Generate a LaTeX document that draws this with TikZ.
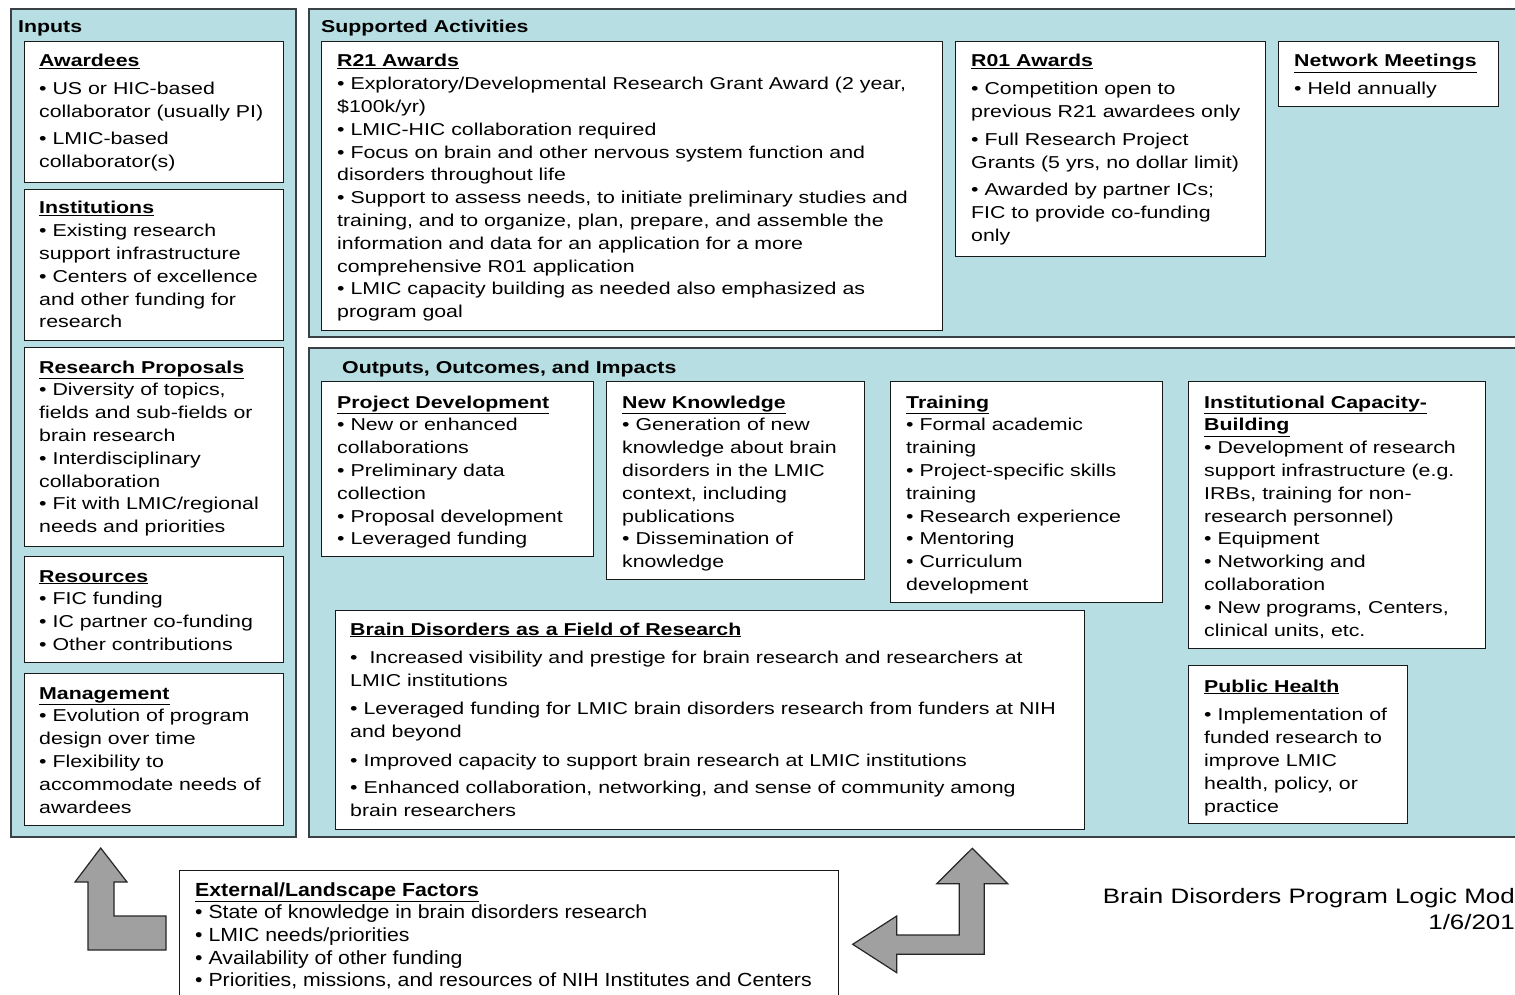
\documentclass[tikz,border=0pt]{standalone}
\usepackage{fontspec}
\setmainfont[FakeStretch=1.24]{Liberation Sans}
\newfontfamily\narrowfont[FakeStretch=1.12]{Liberation Sans}
\definecolor{panelfill}{RGB}{183,223,227}
\definecolor{panelline}{RGB}{58,64,68}
\definecolor{arrowfill}{RGB}{160,160,160}
\newcommand\bodyfont{\fontsize{17.2}{22.8}\selectfont}
\newcommand\hd[1]{\underline{\textbf{#1}}}
\newcommand\bx[1]{\parbox[t]{900pt}{\bodyfont\raggedright #1}}
\newcommand\nbx[1]{\parbox[t]{900pt}{\narrowfont\fontsize{19}{22.7}\selectfont\raggedright #1}}
\begin{document}
\begin{tikzpicture}[x=1pt,y=-1pt,
  panel/.style={draw=panelline, line width=1.8pt, fill=panelfill, anchor=north west, inner sep=0pt},
  box/.style={draw=black!90, line width=1.3pt, fill=white, anchor=north west, inner sep=0pt},
  txt/.style={anchor=base west, inner sep=0pt, yshift=-1pt},
  ptitle/.style={anchor=base west, inner sep=0pt, yshift=-1pt, font=\bodyfont\bfseries},
  blockarrow/.style={draw=black!85, line width=1.2pt, fill=arrowfill, line join=miter}]
\useasboundingbox (0,0) rectangle (1515,995);
\fill[white] (0,0) rectangle (1515,995);

% panels
\node[panel, minimum width=285pt, minimum height=828pt] (inputs) at (10,8) {};
\node[panel, minimum width=1230pt, minimum height=328pt] (supp) at (308,8) {};
\node[panel, minimum width=1230pt, minimum height=489pt] (outp) at (308,347) {};
\node[ptitle] (inputs-t) at (18,32) {Inputs};
\node[ptitle] (supp-t) at (321,32) {Supported Activities};
\node[ptitle] (outp-t) at (342,372) {Outputs, Outcomes, and Impacts};

% inputs boxes
\node[box, minimum width=259pt, minimum height=141pt] (awd) at (24,41) {};
\node[txt] (awd-t) at (39,66) {\bx{\hd{Awardees}\\[5pt]
• US or HIC-based\\
collaborator (usually PI)\\[4pt]
• LMIC-based\\
collaborator(s)}};

\node[box, minimum width=259pt, minimum height=151pt] (inst) at (24,189) {};
\node[txt] (inst-t) at (39,213) {\bx{\hd{Institutions}\\
• Existing research\\
support infrastructure\\
• Centers of excellence\\
and other funding for\\
research}};

\node[box, minimum width=259pt, minimum height=199pt] (prop) at (24,347) {};
\node[txt] (prop-t) at (39,372) {\bx{\hd{Research Proposals}\\
• Diversity of topics,\\
fields and sub-fields or\\
brain research\\
• Interdisciplinary\\
collaboration\\
• Fit with LMIC/regional\\
needs and priorities}};

\node[box, minimum width=259pt, minimum height=106pt] (res) at (24,556) {};
\node[txt] (res-t) at (39,581) {\bx{\hd{Resources}\\
• FIC funding\\
• IC partner co-funding\\
• Other contributions}};

\node[box, minimum width=259pt, minimum height=152pt] (mgmt) at (24,673) {};
\node[txt] (mgmt-t) at (39,698) {\bx{\hd{Management}\\
• Evolution of program\\
design over time\\
• Flexibility to\\
accommodate needs of\\
awardees}};

% supported activities
\node[box, minimum width=621pt, minimum height=289pt] (r21) at (321,41) {};
\node[txt] (r21-t) at (337,66) {\bx{\hd{R21 Awards}\\
• Exploratory/Developmental Research Grant Award (2 year,\\
\$100k/yr)\\
• LMIC-HIC collaboration required\\
• Focus on brain and other nervous system function and\\
disorders throughout life\\
• Support to assess needs, to initiate preliminary studies and\\
training, and to organize, plan, prepare, and assemble the\\
information and data for an application for a more\\
comprehensive R01 application\\
• LMIC capacity building as needed also emphasized as\\
program goal}};

\node[box, minimum width=310pt, minimum height=215pt] (r01) at (955,41) {};
\node[txt] (r01-t) at (971,66) {\bx{\hd{R01 Awards}\\[5pt]
• Competition open to\\
previous R21 awardees only\\[5pt]
• Full Research Project\\
Grants (5 yrs, no dollar limit)\\[5pt]
• Awarded by partner ICs;\\
FIC to provide co-funding\\
only}};

\node[box, minimum width=220pt, minimum height=65pt] (net) at (1278,41) {};
\node[txt] (net-t) at (1294,66) {\bx{\hd{Network Meetings}\\[5pt]
• Held annually}};

% outputs
\node[box, minimum width=272pt, minimum height=175pt] (pd) at (321,381) {};
\node[txt] (pd-t) at (337,407) {\bx{\hd{Project Development}\\
• New or enhanced\\
collaborations\\
• Preliminary data\\
collection\\
• Proposal development\\
• Leveraged funding}};

\node[box, minimum width=258pt, minimum height=198pt] (nk) at (606,381) {};
\node[txt] (nk-t) at (622,407) {\bx{\hd{New Knowledge}\\
• Generation of new\\
knowledge about brain\\
disorders in the LMIC\\
context, including\\
publications\\
• Dissemination of\\
knowledge}};

\node[box, minimum width=272pt, minimum height=221pt] (tr) at (890,381) {};
\node[txt] (tr-t) at (906,407) {\bx{\hd{Training}\\
• Formal academic\\
training\\
• Project-specific skills\\
training\\
• Research experience\\
• Mentoring\\
• Curriculum\\
development}};

\node[box, minimum width=297pt, minimum height=267pt] (icb) at (1188,381) {};
\node[txt] (icb-t) at (1204,407) {\bx{\hd{Institutional Capacity-}\\
\hd{Building}\\
• Development of research\\
support infrastructure (e.g.\\
IRBs, training for non-\\
research personnel)\\
• Equipment\\
• Networking and\\
collaboration\\
• New programs, Centers,\\
clinical units, etc.}};

\node[box, minimum width=749pt, minimum height=219pt] (bd) at (335,610) {};
\node[txt] (bd-t) at (350,634) {\bx{\hd{Brain Disorders as a Field of Research}\\[6pt]
•~ Increased visibility and prestige for brain research and researchers at\\
LMIC institutions\\[5pt]
• Leveraged funding for LMIC brain disorders research from funders at NIH\\
and beyond\\[6pt]
• Improved capacity to support brain research at LMIC institutions\\[5pt]
• Enhanced collaboration, networking, and sense of community among\\
brain researchers}};

\node[box, minimum width=219pt, minimum height=158pt] (ph) at (1188,665) {};
\node[txt] (ph-t) at (1204,691) {\bx{\hd{Public Health}\\[6pt]
• Implementation of\\
funded research to\\
improve LMIC\\
health, policy, or\\
practice}};

% external factors
\node[box, minimum width=659pt, minimum height=140pt] (ext) at (179,870) {};
\node[txt] (ext-t) at (195,895) {\nbx{\underline{\textbf{External/Landscape Factors}}\\
• State of knowledge in brain disorders research\\
• LMIC needs/priorities\\
• Availability of other funding\\
• Priorities, missions, and resources of NIH Institutes and Centers}};

% block arrows
\draw[blockarrow] (100.7,848) -- (127,882) -- (114,882) -- (114,916) -- (166,916) -- (166,950)
  -- (88,950) -- (88,882) -- (75,882) -- cycle;
\draw[blockarrow] (972.3,848.3) -- (1007.7,883.7) -- (984.3,883.7) -- (984.3,954.3) -- (896.7,954.3)
  -- (896.7,972.7) -- (852.7,944.3) -- (896.7,916) -- (896.7,935) -- (959.3,935) -- (959.3,883.7)
  -- (936.7,883.7) -- cycle;

% footer
\node[anchor=base east, inner sep=0pt, font=\fontsize{20.9}{26}\selectfont] (foot1) at (1515,903) {Brain Disorders Program Logic Mod};
\node[anchor=base east, inner sep=0pt, font=\fontsize{20.9}{26}\selectfont] (foot2) at (1515,929) {1/6/201};
\end{tikzpicture}
\end{document}
